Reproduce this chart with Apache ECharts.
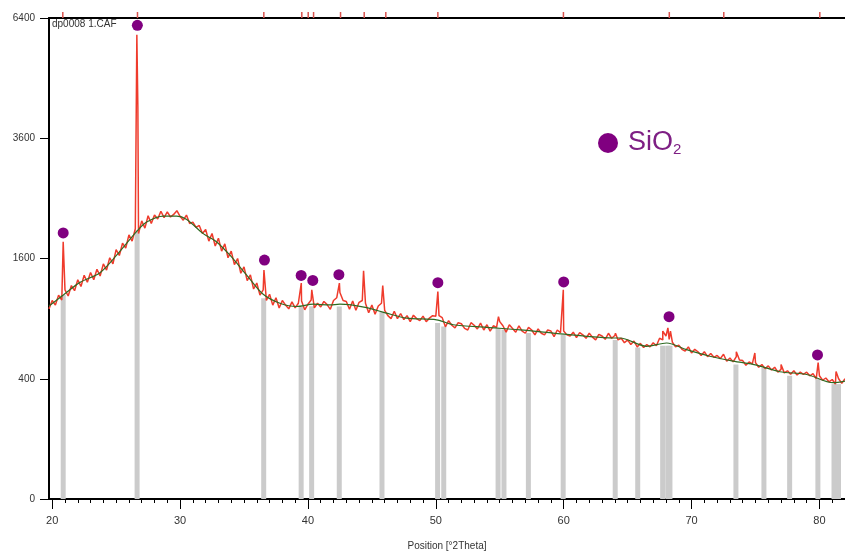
<!DOCTYPE html>
<html><head><meta charset="utf-8">
<script src="https://cdn.jsdelivr.net/npm/echarts@6/dist/echarts.min.js"></script>
<style>html,body{margin:0;padding:0;background:#fff}#c{width:845px;height:556px}</style>
</head><body><div id="c"></div>
<script>
// ---- data (counts) ----
const scanStart = 19.75;
const scanStep = 0.25;
const scanCounts = [
 1000,
 1090,1040,1150,1095, 1210,1140,1260,1200, 1330,1250,1385,1300, 1420,1330,1460,1375,
 1530,1450,1610,1530, 1720,1640,1810,1740, 1930,1840,2020,1950, 2140,2030,2220,2100,
 2230,2170,2290,2190, 2280,2200,2240,2300, 2210,2150,2230,2100, 2120,2040,2070,1950,
 2010,1840,1950,1770, 1880,1700,1800,1610, 1700,1520,1600,1410, 1490,1320,1390,1220,
 1290,1150,1210,1090, 1160,1040,1120,1010, 1090,1040,1000,1075, 1010,1060,1085,990,
 1050,1095,1010,1060, 1020,1080,1045,995, 1090,1120,1180,1090, 1080,995,1085,985,
 1070,1090,1060,960, 1040,945,1030,1060, 985,930,900,975, 900,950,890,930,
 870,935,900,880, 925,870,905,930, 925,930,910,820, 880,835,810,860,
 850,805,790,860, 835,800,855,790, 840,780,830,815, 870,830,770,840,
 805,770,830,780, 760,815,790,745, 800,760,745,790, 780,730,790,765,
 780,745,735,770, 720,765,745,715, 760,725,700,750, 735,705,760,715,
 740,700,715,675, 700,660,690,640, 670,635,660,640, 675,650,715,700,
 735,705,680,640, 655,620,605,640, 590,620,600,570, 600,560,585,555,
 570,545,580,525, 550,520,560,535, 530,495,520,505, 515,480,500,470,
 490,460,480,445, 465,440,455,430, 455,425,445,430, 445,420,435,400,
 420,390,405,380, 395,365,400,370, 400
];
const peakPoints = [
 [20.86,1830],[26.62,5960],[26.70,4250],[36.56,1450],[39.48,1290],[40.30,1210],
 [42.46,1290],[44.35,1440],[45.85,1260],[50.16,1190],[54.90,920],[59.97,1210],
 [64.05,760],[67.75,780],[68.15,810],[68.35,780],[73.50,600],[74.95,590],
 [77.00,500],[79.90,515],[81.30,450]
];
const bgPos = [19.75,20.87,22.17,23.74,25.04,26.61,27.39,28.69,29.73,30.52,31.81,32.86,33.9,35.21,36.5,37.81,39.12,40.41,41.72,42.5,44.59,46.15,47.72,50.06,51.36,53.97,56.58,59.18,61.79,63.87,64.39,66.48,68.05,69.61,71.43,73.25,75.08,76.9,79.0,81.07,82.0];
const bgCounts = [1030,1151,1298,1417,1644,1981,2122,2214,2214,2162,1948,1828,1644,1387,1159,1060,1025,1050,1042,1050,1014,955,905,888,840,815,792,762,732,717,717,645,673,617,564,526,496,448,429,374,385];
const stickPos = [20.86,26.64,36.54,39.47,40.29,42.45,45.79,50.14,50.62,54.87,55.33,57.24,59.96,64.03,65.79,67.74,68.14,68.31,73.47,75.66,77.67,79.88,81.14,81.49];
const stickCounts = [1151,2000,1115,1024,1028,1024,973,856,824,808,795,762,746,700,635,650,650,650,500,476,420,398,365,365];
const markerPos = [20.86,26.66,36.60,39.47,40.38,42.42,50.16,60.00,68.24,79.85];
const markerCounts = [1958,6208,1579,1383,1322,1392,1295,1303,919,574];
const peakListPos = [20.83,26.67,36.55,39.52,40.02,40.44,42.55,44.40,46.09,50.16,59.98,68.26,72.52,80.03];
const xTickLabels = [20,30,40,50,60,70,80];
const yTickCounts = [0,400,1600,3600,6400];
const xMin = 19.75, xMax = 82.0;

// ---- build ----
const sq = Math.sqrt;
const measured = scanCounts.map((c,i)=>[scanStart+i*scanStep, c]).concat(peakPoints)
  .sort((a,b)=>a[0]-b[0]).map(p=>[p[0], sq(p[1])]);
const background = bgPos.map((x,i)=>[x, sq(bgCounts[i])]);
const sticks = stickPos.map((x,i)=>[x, sq(stickCounts[i])]);
const markers = markerPos.map((x,i)=>[x, sq(markerCounts[i])]);
const minorTicks = [];
for (let d = Math.ceil(xMin); d <= xMax; d++) minorTicks.push(d);

const FONT = "'Liberation Sans Narrow','Liberation Sans',Arial,sans-serif";
const chart = echarts.init(document.getElementById('c'), null, {renderer:'canvas'});
chart.setOption({
  animation:false,
  backgroundColor:'#fff',
  title:{text:'dp0008 1.CAF', left:52, top:19, padding:0,
    textStyle:{fontSize:10, fontWeight:'normal', color:'#333', fontFamily:FONT}},
  grid:[
    {left:49, right:0, top:18, bottom:54},
    {left:49, right:0, top:12, height:6}
  ],
  xAxis:[
    {type:'value', gridIndex:0, min:xMin, max:xMax, position:'bottom',
      name:'Position [°2Theta]', nameLocation:'middle', nameGap:42,
      nameTextStyle:{fontSize:10, color:'#333', fontFamily:FONT},
      axisLine:{show:true, onZero:false, lineStyle:{color:'#000', width:2}},
      axisTick:{show:true, length:10, customValues:xTickLabels, lineStyle:{color:'#000'}},
      axisLabel:{customValues:xTickLabels, margin:16, fontSize:11, color:'#333', fontFamily:FONT},
      splitLine:{show:false}},
    {type:'value', gridIndex:0, min:xMin, max:xMax, position:'bottom',
      axisLine:{show:false},
      axisTick:{show:true, length:4, customValues:minorTicks, lineStyle:{color:'#000'}},
      axisLabel:{show:false}, splitLine:{show:false}},
    {type:'value', gridIndex:0, min:xMin, max:xMax, position:'top',
      axisLine:{show:true, lineStyle:{color:'#000', width:2}},
      axisTick:{show:false}, axisLabel:{show:false}, splitLine:{show:false}},
    {type:'value', gridIndex:1, min:xMin, max:xMax, show:false}
  ],
  yAxis:[
    {type:'value', gridIndex:0, min:0, max:80, interval:20,
      axisLine:{show:true, lineStyle:{color:'#000', width:2}},
      axisTick:{show:true, length:9, lineStyle:{color:'#000'}},
      axisLabel:{margin:14, fontSize:10, color:'#333', fontFamily:FONT,
        formatter:v=>String(yTickCounts.find(c=>Math.abs(sq(c)-v)<1e-6) ?? Math.round(v*v))},
      splitLine:{show:false}},
    {type:'value', gridIndex:1, min:0, max:1, show:false}
  ],
  graphic:[
    {type:'circle', shape:{cx:608, cy:143, r:10}, style:{fill:'#800080'}},
    {type:'text', x:628, y:143, style:{
      text:'{a|SiO}{b|2}', verticalAlign:'middle', fill:'#7e1f84',
      rich:{a:{fontSize:27, fontFamily:FONT, fill:'#7e1f84'},
            b:{fontSize:15, fontFamily:FONT, fill:'#7e1f84', padding:[14,0,0,0]}}}}
  ],
  series:[
    {type:'bar', name:'Reference', xAxisIndex:0, yAxisIndex:0, data:sticks, barWidth:5,
      itemStyle:{color:'#cbcbcb'}, z:1, silent:true},
    {type:'line', name:'Measured', xAxisIndex:0, yAxisIndex:0, data:measured, showSymbol:false,
      lineStyle:{color:'#ef3b2c', width:1.5}, z:2, sampling:null, silent:true},
    {type:'line', name:'Background', xAxisIndex:0, yAxisIndex:0, data:background, showSymbol:false,
      smooth:0.3, lineStyle:{color:'#2f6a22', width:1.2}, z:3, silent:true},
    {type:'scatter', name:'SiO2', xAxisIndex:0, yAxisIndex:0, data:markers, symbolSize:11,
      itemStyle:{color:'#800080', opacity:1}, z:4, silent:true},
    {type:'bar', name:'Peak list', xAxisIndex:3, yAxisIndex:1, data:peakListPos.map(x=>[x,1]),
      barWidth:1.5, itemStyle:{color:'#d9534f'}, silent:true}
  ]
});
</script></body></html>
